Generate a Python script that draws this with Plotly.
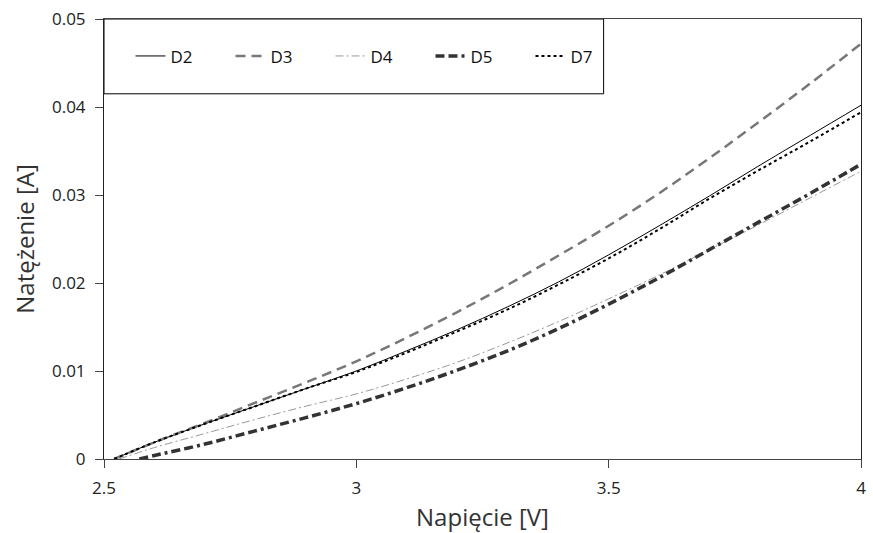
import plotly.graph_objects as go

V_main = [2.52, 2.6, 2.7, 2.8, 2.9, 3.0, 3.1, 3.2, 3.3, 3.4, 3.5, 3.6, 3.7, 3.8, 3.9, 4.0]
D2 = [0, 0.0019, 0.0040, 0.0060, 0.0080, 0.0100, 0.0123, 0.0147, 0.0173, 0.0201, 0.0232, 0.0265, 0.0299, 0.0334, 0.0368, 0.0402]
D3 = [0, 0.0019, 0.0041, 0.0064, 0.0087, 0.0111, 0.0138, 0.0167, 0.0198, 0.0231, 0.0265, 0.0302, 0.0342, 0.0384, 0.0427, 0.0472]
D7 = [0, 0.0019, 0.0040, 0.0060, 0.0080, 0.0099, 0.0121, 0.0145, 0.0170, 0.0198, 0.0228, 0.0261, 0.0296, 0.0329, 0.0361, 0.0394]
V_D4 = [2.53, 2.6, 2.7, 2.8, 2.9, 3.0, 3.1, 3.2, 3.3, 3.4, 3.5, 3.6, 3.7, 3.8, 3.9, 4.0]
D4 = [0, 0.0013, 0.0029, 0.0045, 0.0060, 0.0074, 0.0091, 0.0110, 0.0132, 0.0156, 0.0182, 0.0209, 0.0238, 0.0267, 0.0297, 0.0327]
V_D5 = [2.57, 2.6, 2.7, 2.8, 2.9, 3.0, 3.1, 3.2, 3.3, 3.4, 3.5, 3.6, 3.7, 3.8, 3.9, 4.0]
D5 = [0, 0.0004, 0.0017, 0.0032, 0.0047, 0.0063, 0.0081, 0.0101, 0.0123, 0.0148, 0.0176, 0.0206, 0.0238, 0.0270, 0.0302, 0.0335]

y_ticks = [0, 0.01, 0.02, 0.03, 0.04, 0.05]
y_ticktext = ["0", "0.01", "0.02", "0.03", "0.04", "0.05"]
x_ticks = [2.5, 3, 3.5, 4]
x_ticktext = ["2.5", "3", "3.5", "4"]

fig = go.Figure()
fig.add_trace(go.Scatter(x=V_main, y=D2, name="D2", mode="lines", line=dict(color="black", width=1, shape="spline")))
fig.add_trace(go.Scatter(x=V_main, y=D3, name="D3", mode="lines", line=dict(color="#777777", width=2.5, dash="10px,6px", shape="spline")))
fig.add_trace(go.Scatter(x=V_D4, y=D4, name="D4", mode="lines", line=dict(color="#999999", width=1, dash="8px,3px,2px,3px", shape="spline")))
fig.add_trace(go.Scatter(x=V_D5, y=D5, name="D5", mode="lines", line=dict(color="#333333", width=3.5, dash="9px,4px,9px,4px,3px,4px", shape="spline")))
fig.add_trace(go.Scatter(x=V_main, y=D7, name="D7", mode="lines", line=dict(color="black", width=2, dash="dot", shape="spline")))

fig.add_shape(type="rect", xref="paper", yref="paper", x0=0, x1=0.66, y0=0.83, y1=1,
              line=dict(color="black", width=1), fillcolor="white", layer="below")

fig.update_layout(
    width=873, height=533,
    margin=dict(l=104, r=7, t=18, b=73),
    paper_bgcolor="white", plot_bgcolor="white",
    font=dict(family="Open Sans", color="#222222"),
    legend=dict(orientation="h", x=0.035, y=0.915, xanchor="left", yanchor="middle",
                bgcolor="rgba(0,0,0,0)", borderwidth=0, entrywidth=55,
                font=dict(size=17, color="#111111"), itemwidth=30),
    xaxis=dict(range=[2.5, 4], tickvals=x_ticks, ticktext=x_ticktext, showgrid=False, zeroline=False,
               showline=True, linecolor="#444444", linewidth=1, mirror=True,
               ticks="outside", ticklen=8, tickcolor="#444444", ticklabelstandoff=6,
               tickfont=dict(size=17),
               title=dict(text="Napięcie [V]", font=dict(size=24, color="#333333"), standoff=10)),
    yaxis=dict(range=[0, 0.05], tickvals=y_ticks, ticktext=y_ticktext, showgrid=False, zeroline=False,
               showline=True, linecolor="#222222", linewidth=1, mirror=True,
               ticks="outside", ticklen=8, tickcolor="#444444", ticklabelstandoff=6,
               tickfont=dict(size=17),
               title=dict(text="Natężenie [A]", font=dict(size=24, color="#333333"), standoff=10)),
)

fig.write_html("out.html")
